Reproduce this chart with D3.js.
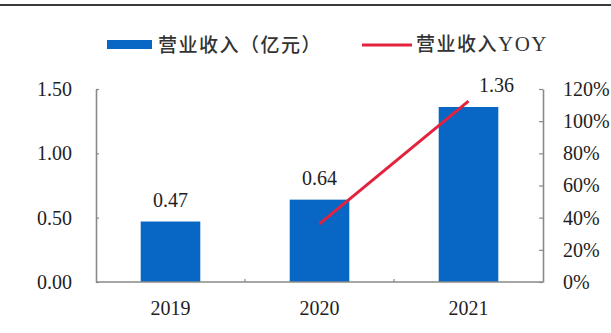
<!DOCTYPE html>
<html>
<head>
<meta charset="utf-8">
<script src="https://cdn.jsdelivr.net/npm/d3@7"></script>
<style>
  html, body { margin: 0; padding: 0; background: #fff; }
  svg { display: block; }
</style>
</head>
<body>
<svg id="chart" width="611" height="333"></svg>
<script>
// Revenue (100M CNY) and year-over-year growth
const years = ["2019", "2020", "2021"];
const revenue = [0.47, 0.64, 1.36];
const yoyYears = ["2020", "2021"];
const yoy = [36.17, 112.5];
const leftTicks = [0, 0.5, 1.0, 1.5];
const rightTicks = [0, 20, 40, 60, 80, 100, 120];
const legendLabels = ["营业收入（亿元）", "营业收入", "YOY"];

const W = 611, H = 333;
const margin = { left: 96, right: 68, top: 89, bottom: 51 };
const x0 = margin.left, x1 = W - margin.right;
const yTop = margin.top, yBot = H - margin.bottom;

const BLUE = "#0867c4";
const RED = "#e3223e";
const TEXT = "#1e1e1e";
const AXIS = "#8a8a8a";
const SERIF = "'Liberation Serif', 'Times New Roman', serif";
const CJK = "'Noto Sans CJK SC', sans-serif";

const svg = d3.select("#chart");

// Rule along the top edge
svg.append("line")
  .attr("x1", 0).attr("x2", W).attr("y1", 5).attr("y2", 5)
  .attr("stroke", "#3a3a3a").attr("stroke-width", 2);

const x = d3.scaleBand().domain(years).range([x0, x1]).paddingInner(0.6).paddingOuter(0.3);
const yL = d3.scaleLinear().domain([0, 1.5]).range([yBot, yTop]);
const yR = d3.scaleLinear().domain([0, 120]).range([yBot, yTop]);

// Bars
svg.append("g").selectAll("rect")
  .data(years.map((y, i) => ({ year: y, v: revenue[i] })))
  .join("rect")
  .attr("x", d => x(d.year))
  .attr("y", d => yL(d.v))
  .attr("width", x.bandwidth())
  .attr("height", d => yL(0) - yL(d.v))
  .attr("fill", BLUE);

// YOY line
const line = d3.line()
  .x(d => x(d.year) + x.bandwidth() / 2)
  .y(d => yR(d.v));
svg.append("path")
  .datum(yoyYears.map((y, i) => ({ year: y, v: yoy[i] })))
  .attr("d", line)
  .attr("fill", "none")
  .attr("stroke", RED)
  .attr("stroke-width", 3);

// Value labels above bars (last one nudged right, clear of the line)
svg.append("g").selectAll("text")
  .data(years.map((y, i) => ({ year: y, v: revenue[i], i })))
  .join("text")
  .attr("x", d => x(d.year) + x.bandwidth() / 2 + (d.i === 2 ? 28 : 0))
  .attr("y", d => yL(d.v) - 22)
  .attr("dy", "0.35em")
  .attr("text-anchor", "middle")
  .attr("font-family", SERIF)
  .attr("font-size", 20)
  .attr("fill", TEXT)
  .text(d => d.v.toFixed(2));

// Left axis
const gL = svg.append("g").attr("transform", `translate(${x0},0)`)
  .call(d3.axisLeft(yL).tickValues(leftTicks).tickFormat(d3.format(".2f")).tickSizeInner(-3).tickSizeOuter(0).tickPadding(24));
// Right axis
const gR = svg.append("g").attr("transform", `translate(${x1},0)`)
  .call(d3.axisRight(yR).tickValues(rightTicks).tickFormat(d => d + "%").tickSizeInner(-4).tickSizeOuter(0).tickPadding(20));
// Bottom axis
const gB = svg.append("g").attr("transform", `translate(0,${yBot})`)
  .call(d3.axisBottom(x).tickSize(0).tickPadding(19));

[gL, gR, gB].forEach(g => {
  g.selectAll(".domain").attr("stroke", AXIS).attr("stroke-width", 1.6);
  g.selectAll(".tick line").attr("stroke", AXIS).attr("stroke-width", 1.2);
  g.selectAll("text").attr("font-family", SERIF).attr("font-size", 20).attr("fill", TEXT);
});
gB.select(".domain").attr("d", `M${x0},0H${x1}`);

// Small separators between categories on the bottom axis
const bounds = years.slice(1).map(y => x(y) - x.step() * x.paddingInner() / 2);
svg.append("g").selectAll("line").data(bounds).join("line")
  .attr("x1", d => d).attr("x2", d => d)
  .attr("y1", yBot).attr("y2", yBot - 3)
  .attr("stroke", AXIS).attr("stroke-width", 1.2);

// Legend
const lg = svg.append("g");
lg.append("rect").attr("x", 107).attr("y", 40).attr("width", 45).attr("height", 9).attr("fill", BLUE);
lg.append("text").attr("x", 158).attr("y", 45).attr("dy", "0.35em")
  .attr("font-family", CJK).attr("font-size", 19).attr("letter-spacing", 1.5)
  .attr("font-weight", 500).attr("fill", "#333")
  .text(legendLabels[0]);
lg.append("line").attr("x1", 362).attr("x2", 412).attr("y1", 45).attr("y2", 45)
  .attr("stroke", RED).attr("stroke-width", 3);
const t2 = lg.append("text").attr("x", 416).attr("y", 45).attr("dy", "0.35em")
  .attr("fill", "#333");
t2.append("tspan").attr("font-family", CJK).attr("font-size", 19)
  .attr("letter-spacing", 1.5).attr("font-weight", 500).text(legendLabels[1]);
t2.append("tspan").attr("font-family", SERIF).attr("font-size", 21)
  .attr("letter-spacing", 1.5).text(legendLabels[2]);
</script>
</body>
</html>
